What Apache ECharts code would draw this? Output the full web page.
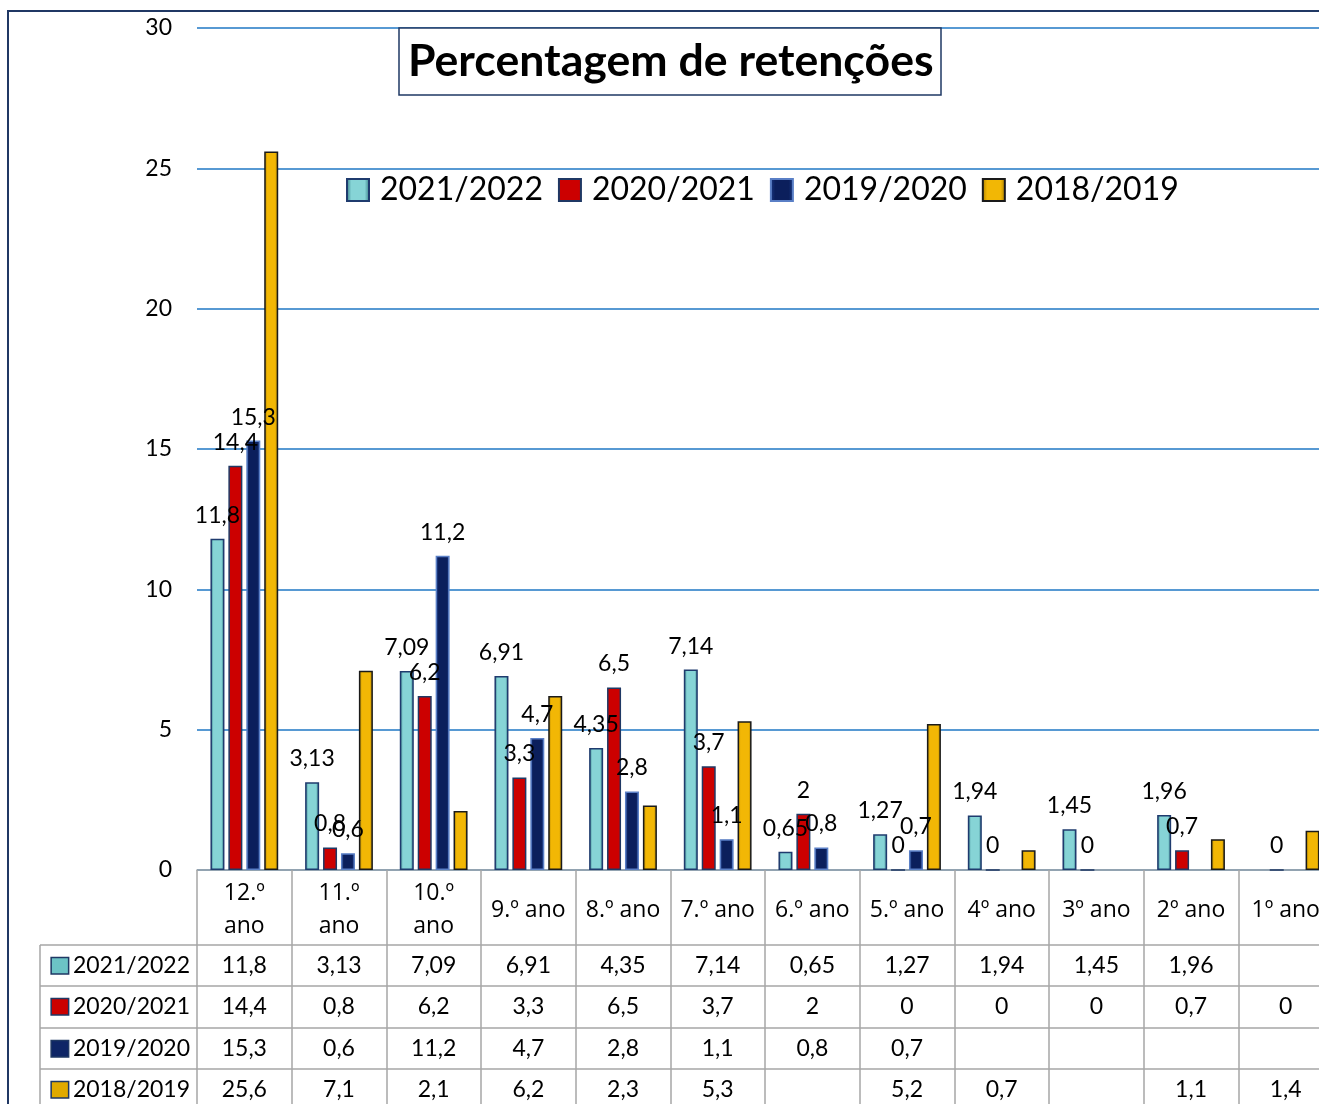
<!DOCTYPE html>
<html>
<head>
<meta charset="utf-8">
<script src="https://cdn.jsdelivr.net/npm/echarts@6/dist/echarts.min.js"></script>
<style>
html,body{margin:0;padding:0;background:#fff;}
#chart{width:1319px;height:1104px;}
</style>
</head>
<body>
<div id="chart"></div>
<script>
const titleText = 'Percentagem de retenções';
const categories = ['12.º\nano','11.º\nano','10.º\nano','9.º ano','8.º ano','7.º ano','6.º ano','5.º ano','4º ano','3º ano','2º ano','1º ano'];
const seriesNames = ['2021/2022','2020/2021','2019/2020','2018/2019'];
const s2021_2022 = [11.8, 3.13, 7.09, 6.91, 4.35, 7.14, 0.65, 1.27, 1.94, 1.45, 1.96, null];
const s2020_2021 = [14.4, 0.8, 6.2, 3.3, 6.5, 3.7, 2, 0, 0, 0, 0.7, 0];
const s2019_2020 = [15.3, 0.6, 11.2, 4.7, 2.8, 1.1, 0.8, 0.7, null, null, null, null];
const s2018_2019 = [25.6, 7.1, 2.1, 6.2, 2.3, 5.3, null, 5.2, 0.7, null, 1.1, 1.4];
const yTicks = {min: 0, max: 30, interval: 5};

const rows = [s2021_2022, s2020_2021, s2019_2020, s2018_2019];
const showLabels = [true, true, true, false];

const FONT = 'Lato';
const CAT_FONT = 'Open Sans';
const fmt = v => (v === null || v === undefined) ? '' : String(v).replace('.', ',');

const grad = (edge, mid) => ({
  type: 'linear', x: 0, y: 0, x2: 1, y2: 0,
  colorStops: [
    {offset: 0, color: edge}, {offset: 0.22, color: mid},
    {offset: 0.78, color: mid}, {offset: 1, color: edge}
  ]
});
const styles = [
  {color: grad('#2f7580', '#86d4d6'), borderColor: '#1f3b6e', borderWidth: 1.5, icon: '#6cc3c6'},
  {color: '#cc0000', borderColor: '#1f3864', borderWidth: 1.5, icon: '#cc0000'},
  {color: grad('#1a3a86', '#0b1f5c'), borderColor: '#5a7fc6', borderWidth: 1.5, icon: '#0e2566'},
  {color: grad('#a67c00', '#f2b705'), borderColor: '#1a1a1a', borderWidth: 1.5, icon: '#e0aa00'}
];

const GRID_LEFT = 197, GRID_TOP = 28, GRID_BOTTOM_Y = 870, CAT_W = 94.67;
const rowTops = [945, 986, 1028, 1069];
const rowH = 41.5;

const xAxes = [{
  type: 'category',
  data: categories,
  gridIndex: 0,
  position: 'bottom',
  axisLine: {show: true, lineStyle: {color: '#a6a6a6', width: 1.5}},
  axisTick: {show: true, interval: 0, length: 240, lineStyle: {color: '#a6a6a6', width: 1.5}},
  axisLabel: {interval: 0, color: '#000', fontFamily: CAT_FONT, fontSize: 23, lineHeight: 33, margin: 40, verticalAlign: 'middle'},
  splitLine: {show: false}
}];
rows.forEach((row, ri) => {
  xAxes.push({
    type: 'category',
    data: categories,
    gridIndex: 0,
    position: 'bottom',
    offset: rowTops[ri] - GRID_BOTTOM_Y,
    name: '{ic' + ri + '|}{t|' + seriesNames[ri] + '}',
    nameLocation: 'start',
    nameGap: 7,
    nameTextStyle: {
      align: 'right', verticalAlign: 'middle', padding: [rowH, 0, 0, 0],
      rich: {
        ['ic' + ri]: {width: 16, height: 15, backgroundColor: styles[ri].icon, borderColor: '#1f3864', borderWidth: 1.5},
        t: {fontFamily: FONT, fontSize: 23, color: '#000', padding: [0, 0, 0, 5]}
      }
    },
    axisLine: {show: true, lineStyle: {color: '#a6a6a6', width: 1.5}},
    axisTick: {show: false},
    axisLabel: {interval: 0, color: '#000', fontFamily: FONT, fontSize: 23, margin: rowH / 2, verticalAlign: 'middle',
      formatter: (v, i) => fmt(row[i])},
    splitLine: {show: false}
  });
});

const series = rows.map((row, i) => ({
  name: seriesNames[i],
  type: 'bar',
  xAxisIndex: 0,
  data: row,
  barWidth: 14,
  barGap: '28%',
  itemStyle: {color: styles[i].color, borderColor: styles[i].borderColor, borderWidth: styles[i].borderWidth},
  label: {show: showLabels[i], position: 'top', distance: 12, color: '#000', fontFamily: FONT, fontSize: 23,
    formatter: p => fmt(p.value)}
}));

const chart = echarts.init(document.getElementById('chart'), null, {renderer: 'canvas'});
chart.setOption({
  animation: false,
  backgroundColor: '#fff',
  textStyle: {fontFamily: FONT},
  title: {
    text: titleText,
    left: 399, top: 28,
    padding: [9, 8, 8, 9],
    backgroundColor: '#fff',
    borderColor: '#1f3864', borderWidth: 1.5,
    textStyle: {fontFamily: FONT, fontWeight: 'bold', fontSize: 44.6, color: '#000', lineHeight: 50}
  },
  legend: {
    data: seriesNames,
    left: 341, top: 169,
    itemWidth: 22, itemHeight: 22, itemGap: 15,
    icon: 'rect',
    textStyle: {fontFamily: FONT, fontSize: 32, color: '#000', padding: [0, 0, 0, 6]}
  },
  grid: {left: GRID_LEFT, top: GRID_TOP, width: CAT_W * 12, height: GRID_BOTTOM_Y - GRID_TOP,
    containLabel: false, outerBoundsMode: 'none'},
  xAxis: xAxes,
  yAxis: {
    type: 'value', min: yTicks.min, max: yTicks.max, interval: yTicks.interval,
    axisLine: {show: false}, axisTick: {show: false},
    axisLabel: {color: '#000', fontFamily: FONT, fontSize: 23, margin: 25},
    splitLine: {lineStyle: {color: '#1f77c4', width: 1.5}}
  },
  graphic: [
    {type: 'rect', shape: {x: 8, y: 11, width: 1500, height: 1300}, style: {fill: null, stroke: '#203864', lineWidth: 2}, z: 100, silent: true},
    {type: 'line', shape: {x1: 40, y1: 945, x2: 197, y2: 945}, style: {stroke: '#a6a6a6', lineWidth: 1.5}},
    {type: 'line', shape: {x1: 40, y1: 986, x2: 197, y2: 986}, style: {stroke: '#a6a6a6', lineWidth: 1.5}},
    {type: 'line', shape: {x1: 40, y1: 1028, x2: 197, y2: 1028}, style: {stroke: '#a6a6a6', lineWidth: 1.5}},
    {type: 'line', shape: {x1: 40, y1: 1069, x2: 197, y2: 1069}, style: {stroke: '#a6a6a6', lineWidth: 1.5}},
    {type: 'line', shape: {x1: 40, y1: 945, x2: 40, y2: 1110}, style: {stroke: '#a6a6a6', lineWidth: 1.5}}
  ],
  series: series
});
</script>
</body>
</html>
